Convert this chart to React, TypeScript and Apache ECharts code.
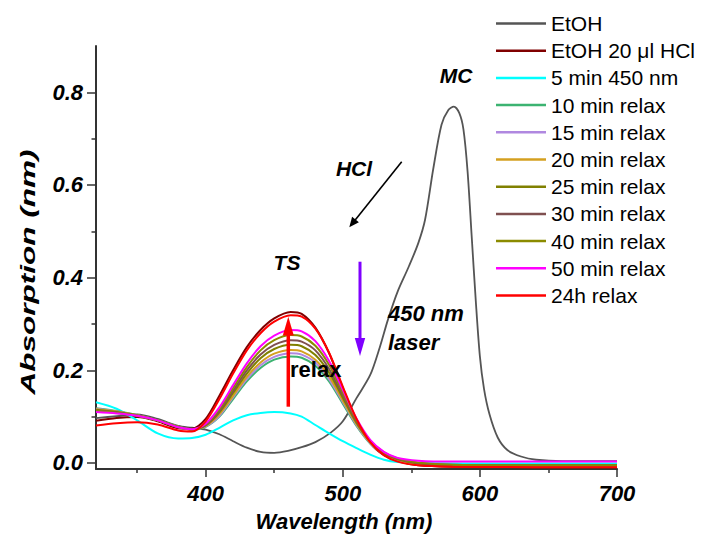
import React, { useEffect, useRef } from "react";
import * as echarts from "echarts";

// Wavelength grid (nm) for the acid / relaxation spectra
const WL = [320, 335, 350, 365, 380, 390, 400, 410, 420, 430, 440, 450, 462, 470, 480, 490, 500, 510, 520, 530, 540, 555, 580, 640, 700];

// Wavelength grid (nm) for the neutral EtOH spectrum
const GRAY_WL = [320, 335, 350, 365, 380, 390, 400, 410, 420, 430, 440, 450, 460, 470, 480, 491, 500, 510, 520, 527, 533, 540, 548, 555, 560, 566, 572, 577, 581, 585, 588, 591, 594, 597, 600, 603, 607, 613, 620, 630, 641, 660, 700];

const ETOH = [0.097, 0.101, 0.105, 0.095, 0.08, 0.076, 0.072, 0.062, 0.047, 0.033, 0.024, 0.022, 0.026, 0.034, 0.045, 0.065, 0.09, 0.14, 0.19, 0.25, 0.31, 0.37, 0.423, 0.474, 0.525, 0.635, 0.73, 0.762, 0.769, 0.755, 0.72, 0.63, 0.49, 0.35, 0.23, 0.16, 0.105, 0.055, 0.028, 0.014, 0.007, 0.004, 0.004];

const HCL = [0.091, 0.097, 0.099, 0.09, 0.075, 0.074, 0.095, 0.145, 0.2, 0.25, 0.287, 0.312, 0.326, 0.322, 0.292, 0.237, 0.162, 0.092, 0.043, 0.017, 0.004, -0.005, -0.008, -0.009, -0.009];
const LASER5 = [0.131, 0.117, 0.092, 0.064, 0.053, 0.054, 0.061, 0.076, 0.092, 0.103, 0.108, 0.11, 0.107, 0.1, 0.082, 0.064, 0.047, 0.032, 0.018, 0.007, 0.002, 0.0, -0.001, -0.001, -0.001];
const R10 = [0.118, 0.112, 0.103, 0.092, 0.078, 0.072, 0.078, 0.1, 0.138, 0.176, 0.205, 0.223, 0.23, 0.227, 0.21, 0.176, 0.128, 0.08, 0.042, 0.018, 0.006, -0.002, -0.005, -0.005, -0.005];
const R15 = [0.117, 0.111, 0.103, 0.092, 0.078, 0.072, 0.079, 0.102, 0.142, 0.181, 0.211, 0.229, 0.237, 0.234, 0.217, 0.181, 0.132, 0.082, 0.043, 0.019, 0.006, -0.002, -0.005, -0.005, -0.005];
const R20 = [0.116, 0.111, 0.103, 0.092, 0.078, 0.072, 0.08, 0.105, 0.145, 0.186, 0.217, 0.236, 0.244, 0.241, 0.223, 0.187, 0.135, 0.084, 0.044, 0.019, 0.007, -0.002, -0.005, -0.005, -0.005];
const R25 = [0.115, 0.11, 0.103, 0.092, 0.078, 0.072, 0.081, 0.109, 0.151, 0.193, 0.226, 0.246, 0.255, 0.252, 0.233, 0.195, 0.141, 0.087, 0.046, 0.021, 0.008, -0.001, -0.005, -0.005, -0.005];
const R30 = [0.113, 0.109, 0.102, 0.092, 0.077, 0.073, 0.082, 0.112, 0.156, 0.2, 0.234, 0.255, 0.265, 0.262, 0.243, 0.203, 0.146, 0.09, 0.047, 0.022, 0.009, 0.0, -0.004, -0.005, -0.005];
const R40 = [0.112, 0.108, 0.102, 0.092, 0.077, 0.073, 0.084, 0.116, 0.162, 0.207, 0.243, 0.265, 0.276, 0.273, 0.253, 0.212, 0.152, 0.093, 0.048, 0.023, 0.01, 0.001, -0.004, -0.005, -0.005];
const R50 = [0.11, 0.107, 0.102, 0.092, 0.077, 0.073, 0.085, 0.12, 0.168, 0.215, 0.252, 0.275, 0.287, 0.284, 0.263, 0.22, 0.158, 0.096, 0.05, 0.024, 0.011, 0.005, 0.003, 0.003, 0.003];
const R24H = [0.081, 0.086, 0.088, 0.083, 0.07, 0.068, 0.09, 0.138, 0.193, 0.243, 0.28, 0.305, 0.319, 0.316, 0.29, 0.238, 0.165, 0.095, 0.045, 0.017, 0.003, -0.005, -0.008, -0.009, -0.009];

const NAMES = ["EtOH", "EtOH 20 μl HCl", "5 min 450 nm", "10 min relax", "15 min relax", "20 min relax", "25 min relax", "30 min relax", "40 min relax", "50 min relax", "24h relax"];
const COLORS = ["#555555", "#800000", "#00ffff", "#3cb371", "#b088e0", "#d4a020", "#808000", "#7f5050", "#8b8b00", "#ff00ff", "#ff0000"];

const X_TICKS = [400, 500, 600, 700];
const X_MINOR = [350, 450, 550, 650];
const Y_TICKS = [0, 0.2, 0.4, 0.6, 0.8];
const Y_MINOR = [0.1, 0.3, 0.5, 0.7];

const FONT = '"Liberation Sans", Arial, sans-serif';

function pairs(xs: number[], ys: number[]) {
  return xs.map((x, i) => [x, ys[i]]);
}

export default function App() {
  const ref = useRef<HTMLDivElement>(null);

  useEffect(() => {
    if (!ref.current) return;
    const chart = echarts.init(ref.current, null, { renderer: "svg" });

    const curves = [ETOH, HCL, LASER5, R10, R15, R20, R25, R30, R40, R50, R24H];
    const series = curves.map((vals, i) => ({
      name: NAMES[i],
      type: "line",
      xAxisIndex: 0,
      yAxisIndex: 0,
      data: i === 0 ? pairs(GRAY_WL, vals) : pairs(WL, vals),
      symbol: "none",
      showSymbol: false,
      smooth: 0.3,
      lineStyle: { color: COLORS[i], width: i === 0 ? 1.8 : 2 },
      itemStyle: { color: COLORS[i] },
      z: 2 + i,
    }));

    const tickLabel = {
      fontFamily: FONT,
      fontWeight: "bold",
      fontStyle: "italic",
      fontSize: 22,
      color: "#000",
    };
    const axisColor = "#333";

    const textStyle = (size: number, italic = true) => ({
      font: `${italic ? "italic " : ""}bold ${size}px ${FONT}`,
      fill: "#000",
    });

    chart.setOption({
      animation: false,
      backgroundColor: "#fff",
      grid: { left: 96, right: 85, top: 46, bottom: 66, outerBoundsMode: "none" },
      legend: {
        orient: "vertical",
        left: 491,
        top: 8,
        icon: "rect",
        itemWidth: 50,
        itemHeight: 2.5,
        itemGap: 6.2,
        selectedMode: false,
        data: NAMES,
        textStyle: { fontFamily: FONT, fontSize: 21, lineHeight: 21, color: "#000" },
      },
      xAxis: [
        {
          type: "value",
          min: 320,
          max: 700,
          position: "bottom",
          axisLine: { show: true, onZero: false, lineStyle: { color: axisColor, width: 2 } },
          axisTick: { show: true, customValues: X_TICKS, length: 8, lineStyle: { color: axisColor, width: 1.5 } },
          axisLabel: { customValues: X_TICKS, margin: 13, ...tickLabel, formatter: (v: number) => String(v) },
          splitLine: { show: false },
        },
        {
          type: "value",
          min: 320,
          max: 700,
          position: "bottom",
          axisLine: { show: false, onZero: false },
          axisTick: { show: true, customValues: X_MINOR, length: 4, lineStyle: { color: axisColor, width: 1.5 } },
          axisLabel: { show: false },
          splitLine: { show: false },
        },
      ],
      yAxis: [
        {
          type: "value",
          min: -0.013,
          max: 0.9,
          position: "left",
          axisLine: { show: true, onZero: false, lineStyle: { color: axisColor, width: 2 } },
          axisTick: { show: true, customValues: Y_TICKS, length: 9, lineStyle: { color: axisColor, width: 1.5 } },
          axisLabel: { customValues: Y_TICKS, margin: 13, ...tickLabel, formatter: (v: number) => v.toFixed(1) },
          splitLine: { show: false },
        },
        {
          type: "value",
          min: -0.013,
          max: 0.9,
          position: "left",
          axisLine: { show: false, onZero: false },
          axisTick: { show: true, customValues: Y_MINOR, length: 4.5, lineStyle: { color: axisColor, width: 1.5 } },
          axisLabel: { show: false },
          splitLine: { show: false },
        },
      ],
      series,
      graphic: [
        { type: "text", x: 344, y: 521, z: 50, style: { text: "Wavelength (nm)", ...textStyle(22), textAlign: "center", textVerticalAlign: "middle" } },
        { type: "text", x: 28, y: 272, rotation: Math.PI / 2, scaleX: 1.5, scaleY: 1, z: 50, style: { text: "Absorption (nm)", ...textStyle(21), textAlign: "center", textVerticalAlign: "middle" } },
        { type: "text", x: 456, y: 75, z: 50, style: { text: "MC", ...textStyle(21), textAlign: "center", textVerticalAlign: "middle" } },
        { type: "text", x: 354, y: 168, z: 50, style: { text: "HCl", ...textStyle(21), textAlign: "center", textVerticalAlign: "middle" } },
        { type: "text", x: 287, y: 262, z: 50, style: { text: "TS", ...textStyle(21), textAlign: "center", textVerticalAlign: "middle" } },
        { type: "text", x: 388, y: 313, z: 50, style: { text: "450 nm", ...textStyle(22), textAlign: "left", textVerticalAlign: "middle" } },
        { type: "text", x: 388, y: 342, z: 50, style: { text: "laser", ...textStyle(22), textAlign: "left", textVerticalAlign: "middle" } },
        { type: "text", x: 290, y: 369, z: 50, style: { text: "relax", ...textStyle(22, false), textAlign: "left", textVerticalAlign: "middle" } },
        // HCl arrow
        { type: "line", z: 50, shape: { x1: 401.7, y1: 161.7, x2: 354, y2: 221.5 }, style: { stroke: "#000", lineWidth: 1.6 } },
        { type: "polygon", z: 50, shape: { points: [[349.3, 227.3], [358.9, 222.2], [352.1, 216.8]] }, style: { fill: "#000" } },
        // violet arrow
        { type: "line", z: 50, shape: { x1: 360, y1: 261.7, x2: 360, y2: 340 }, style: { stroke: "#7f00ff", lineWidth: 3 } },
        { type: "polygon", z: 50, shape: { points: [[354.8, 338], [365.2, 338], [360, 356]] }, style: { fill: "#7f00ff" } },
        // red arrow
        { type: "line", z: 50, shape: { x1: 288.3, y1: 406.7, x2: 288.3, y2: 333 }, style: { stroke: "#ff0000", lineWidth: 3.5 } },
        { type: "polygon", z: 50, shape: { points: [[282.8, 335.5], [293.8, 335.5], [288.3, 316.7]] }, style: { fill: "#ff0000" } },
      ],
    });

    return () => chart.dispose();
  }, []);

  return <div ref={ref} style={{ position: "fixed", left: 0, top: 0, width: 702, height: 535 }} />;
}
